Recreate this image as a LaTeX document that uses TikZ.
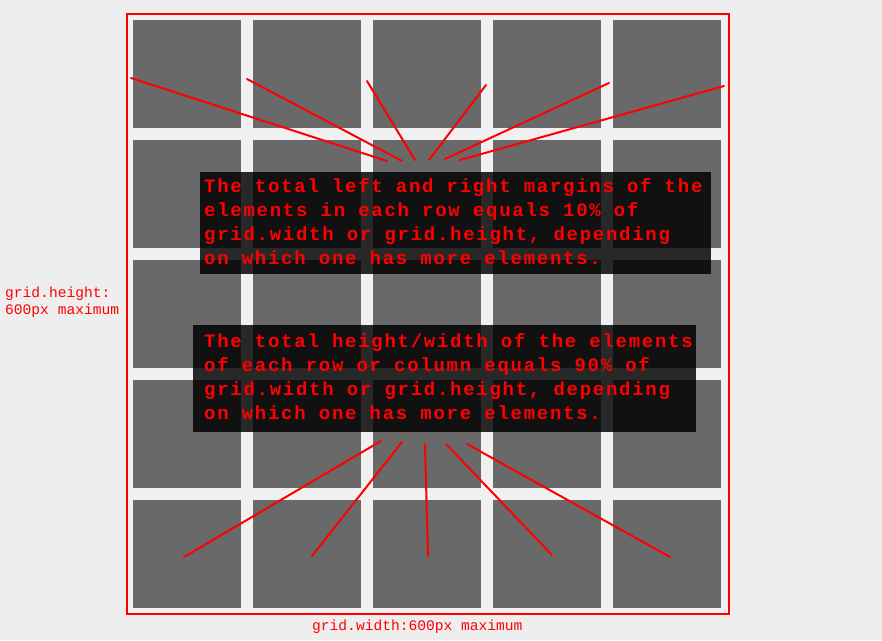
\documentclass[tikz,border=0pt]{standalone}
\usepackage{fontspec}
\newfontfamily\monofam{Liberation Mono}
\newfontfamily\monospaced[LetterSpace=9.1]{Liberation Mono}
\definecolor{bgout}{HTML}{EEEEEE}
\definecolor{bgin}{HTML}{F0F0F0}
\definecolor{cell}{HTML}{696969}
\definecolor{redline}{HTML}{FF0000}
\tikzset{
  cellbox/.style={fill=cell, draw=none},
  ray/.style={draw=redline, line width=2pt, line cap=round},
  notebox/.style={fill=black, fill opacity=0.83, draw=none},
  bigtxt/.style={anchor=base west, inner sep=0pt, text=redline, font=\monospaced\bfseries\fontsize{19}{24}\selectfont},
  smalltxt/.style={anchor=base west, inner sep=0pt, text=redline, font=\monofam\fontsize{14.6}{17}\selectfont},
}
\begin{document}
\begin{tikzpicture}[x=1pt,y=-1pt]
\useasboundingbox (0,0) rectangle (882,640);
\fill[bgout] (0,0) rectangle (882,640);
\fill[bgin] (127,14) rectangle (729,614);
% cells
\foreach \i in {0,...,4}{
  \foreach \j in {0,...,4}{
    \path[cellbox] ({133+120*\i},{20+120*\j}) rectangle ++(108,108);
  }
}
\draw[draw=redline, line width=2pt] (127,14) rectangle (729,614);
% top rays
\coordinate (t1a) at (131,78);   \coordinate (t1b) at (387,161);
\coordinate (t2a) at (247,79);   \coordinate (t2b) at (402,161);
\coordinate (t3a) at (367,81);   \coordinate (t3b) at (415,160);
\coordinate (t4a) at (486,85);   \coordinate (t4b) at (429,160);
\coordinate (t5a) at (609,83);   \coordinate (t5b) at (445,159);
\coordinate (t6a) at (724,86);   \coordinate (t6b) at (460,160);
\foreach \k in {1,...,6}{ \draw[ray] (t\k a) -- (t\k b); }
% bottom rays
\coordinate (b1a) at (381,441);  \coordinate (b1b) at (184,557);
\coordinate (b2a) at (402,442);  \coordinate (b2b) at (312,556);
\coordinate (b3a) at (425,444);  \coordinate (b3b) at (428,556);
\coordinate (b4a) at (446,444);  \coordinate (b4b) at (552,555);
\coordinate (b5a) at (467,444);  \coordinate (b5b) at (670,557);
\foreach \k in {1,...,5}{ \draw[ray] (b\k a) -- (b\k b); }
% note boxes
\path[notebox] (200,172) rectangle (711,274);
\node[bigtxt] (n1l1) at (204,192) {The total left and right margins of the};
\node[bigtxt] (n1l2) at (204,216) {elements in each row equals 10\% of};
\node[bigtxt] (n1l3) at (204,240) {grid.width or grid.height, depending};
\node[bigtxt] (n1l4) at (204,264) {on which one has more elements.};
\path[notebox] (193,325) rectangle (696,432);
\node[bigtxt] (n2l1) at (204,347) {The total height/width of the elements};
\node[bigtxt] (n2l2) at (204,371) {of each row or column equals 90\% of};
\node[bigtxt] (n2l3) at (204,395) {grid.width or grid.height, depending};
\node[bigtxt] (n2l4) at (204,419) {on which one has more elements.};
% labels
\node[smalltxt] (hl1) at (5,297) {grid.height:};
\node[smalltxt] (hl2) at (5,314) {600px maximum};
\node[smalltxt] (wl) at (312,630) {grid.width:600px maximum};
\end{tikzpicture}
\end{document}
